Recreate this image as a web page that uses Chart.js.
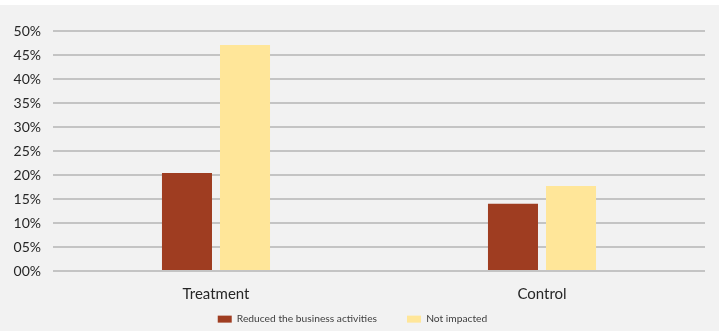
<!DOCTYPE html>
<html>
<head>
<meta charset="utf-8">
<script src="https://cdn.jsdelivr.net/npm/chart.js@4"></script>
<style>
  html, body { margin: 0; padding: 0; background: #fff; }
  #wrap { position: absolute; left: 0; top: 5px; width: 719px; height: 326px; background: #f2f2f2; }
</style>
</head>
<body>
<div id="wrap"><canvas id="chart" width="719" height="326"></canvas></div>
<script>
const groups = ['Treatment', 'Control'];
const reduced = [20.4, 14.0];
const notImpacted = [47.1, 17.7];
const yMax = 50;
const yStep = 5;

const font = 'Lato, "Open Sans", sans-serif';
const legendPad = 30;

// legend padding doubles as item spacing, so its box is kept short
// and its top is pulled up afterwards (bottom stays so nothing gets clipped)
const legendHeight = {
  id: 'legendHeight',
  beforeUpdate(chart) {
    const legend = chart.legend;
    if (legend && !legend._shortFit) {
      const fit = legend.fit;
      legend.fit = function () {
        fit.call(this);
        this.height = 14;
      };
      legend._shortFit = true;
    }
  },
  afterLayout(chart) {
    chart.legend.top = 314 - legendPad - 5;
  }
};

const ctx = document.getElementById('chart').getContext('2d');
new Chart(ctx, {
  type: 'bar',
  data: {
    labels: groups,
    datasets: [
      { label: 'Reduced the business activities', data: reduced, backgroundColor: '#9f3d21' },
      { label: 'Not impacted', data: notImpacted, backgroundColor: '#ffe699' }
    ]
  },
  plugins: [legendHeight],
  options: {
    responsive: false,
    animation: false,
    categoryPercentage: 0.356,
    barPercentage: 0.862,
    layout: { padding: { top: 26, right: 14, left: 0, bottom: 0 } },
    plugins: {
      tooltip: { enabled: false },
      legend: {
        position: 'bottom',
        labels: {
          boxWidth: 14,
          boxHeight: 7,
          padding: legendPad,
          color: '#404040',
          font: { family: font, size: 10.25 }
        }
      }
    },
    scales: {
      x: {
        grid: { display: false, drawTicks: false },
        border: { display: false },
        ticks: { color: '#262626', font: { family: font, size: 15 }, padding: 14 }
      },
      y: {
        min: 0,
        max: yMax,
        afterFit: (axis) => { axis.width = 53; },
        grid: { color: '#c4c4c4', lineWidth: 2, drawTicks: false },
        border: { display: false },
        ticks: {
          stepSize: yStep,
          padding: 12,
          color: '#262626',
          font: { family: font, size: 14 },
          callback: (v) => String(v).padStart(2, '0') + '%'
        }
      }
    }
  }
});
</script>
</body>
</html>
